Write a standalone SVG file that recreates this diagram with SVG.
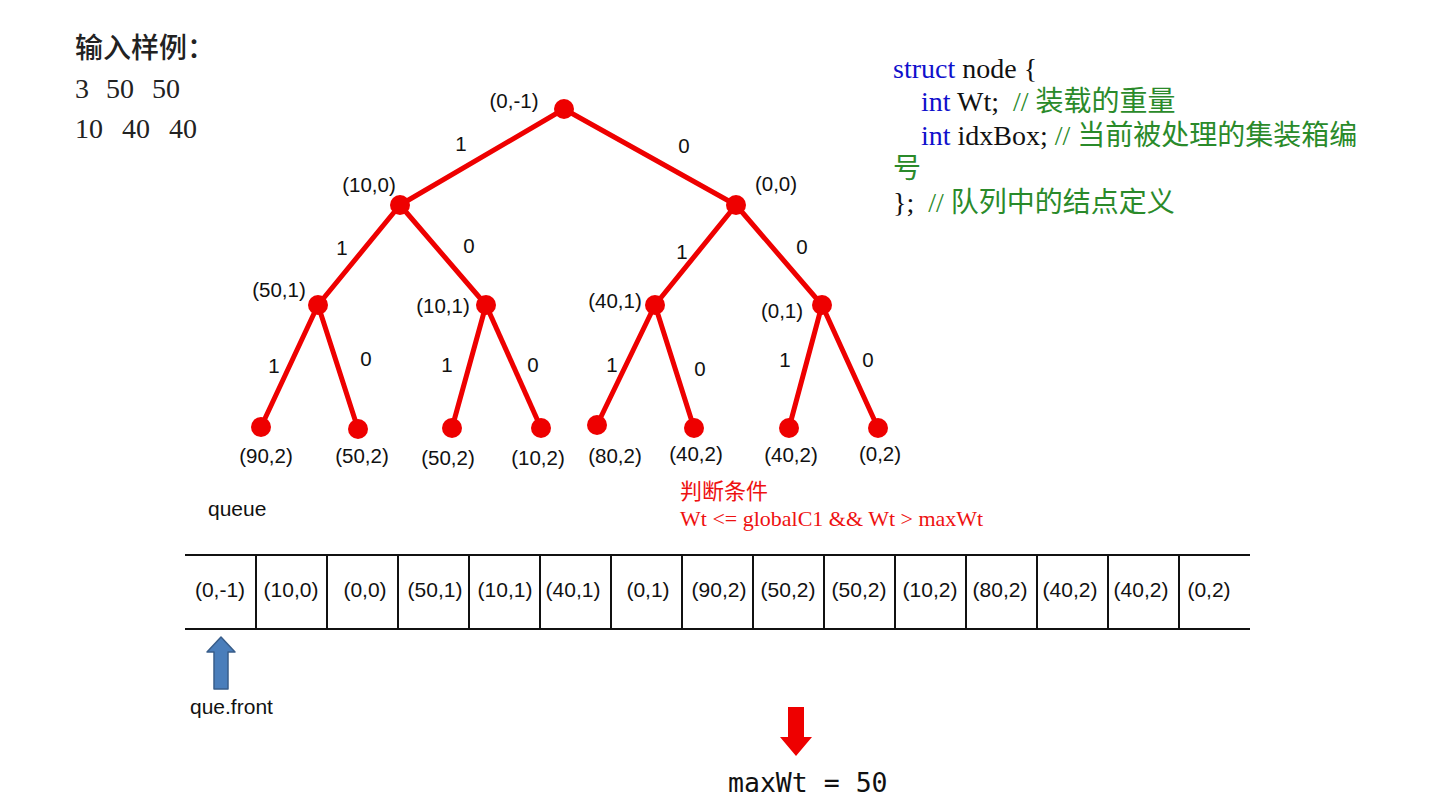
<svg xmlns="http://www.w3.org/2000/svg" width="1440" height="810" viewBox="0 0 1440 810">
<style>
.lbl{font-family:"Liberation Sans",Arial,sans-serif;font-size:20.5px;fill:#111;text-anchor:middle;dominant-baseline:central}
.edge{stroke:#ee0000;stroke-width:5;fill:none;stroke-linecap:round}
.dot{fill:#ee0000}
.cell{font-family:"Liberation Sans",Arial,sans-serif;font-size:21px;fill:#111;text-anchor:middle;dominant-baseline:central}
.code{font-family:"Liberation Serif","Times New Roman","Noto Sans CJK SC",serif;font-size:28px;fill:#111;white-space:pre}
.kw{fill:#1010cc}
.cm{fill:#2a8a2a}
.inp{font-family:"Liberation Serif","Times New Roman","Noto Sans CJK SC",serif;font-size:28px;fill:#222}
</style>
<rect width="1440" height="810" fill="#fff"/>
<g id="input">
<text class="inp" x="75" y="58" font-size="29" font-weight="500">输入样例：</text>
<text class="inp" x="75" y="98">3</text>
<text class="inp" x="106" y="98">50</text>
<text class="inp" x="152" y="98">50</text>
<text class="inp" x="75" y="138">10</text>
<text class="inp" x="122" y="138">40</text>
<text class="inp" x="169" y="138">40</text>
</g>
<g id="code">
<text class="code" x="893" y="78"><tspan class="kw">struct</tspan> node {</text>
<text class="code" x="921" y="111" xml:space="preserve"><tspan class="kw">int</tspan> Wt;  <tspan class="cm">// 装载的重量</tspan></text>
<text class="code" x="921" y="145" xml:space="preserve"><tspan class="kw">int</tspan> idxBox; <tspan class="cm">// 当前被处理的集装箱编</tspan></text>
<text class="code cm" x="893" y="178">号</text>
<text class="code" x="893" y="212" xml:space="preserve">};  <tspan class="cm">// 队列中的结点定义</tspan></text>
</g>
<g id="connectors">
<line class="edge" x1="564" y1="109" x2="400" y2="205"/>
<line class="edge" x1="564" y1="109" x2="736" y2="205"/>
<line class="edge" x1="400" y1="205" x2="318" y2="305"/>
<line class="edge" x1="400" y1="205" x2="486" y2="305"/>
<line class="edge" x1="736" y1="205" x2="655" y2="305"/>
<line class="edge" x1="736" y1="205" x2="822" y2="305"/>
<line class="edge" x1="318" y1="305" x2="261" y2="427"/>
<line class="edge" x1="318" y1="305" x2="358" y2="429"/>
<line class="edge" x1="486" y1="305" x2="452" y2="428"/>
<line class="edge" x1="486" y1="305" x2="541" y2="428"/>
<line class="edge" x1="655" y1="305" x2="597" y2="425"/>
<line class="edge" x1="655" y1="305" x2="694" y2="428"/>
<line class="edge" x1="822" y1="305" x2="789" y2="428"/>
<line class="edge" x1="822" y1="305" x2="878" y2="428"/>
<text class="lbl" x="461" y="143">1</text>
<text class="lbl" x="684" y="145">0</text>
<text class="lbl" x="342" y="247">1</text>
<text class="lbl" x="469" y="245">0</text>
<text class="lbl" x="682" y="251">1</text>
<text class="lbl" x="802" y="246">0</text>
<text class="lbl" x="274" y="365">1</text>
<text class="lbl" x="366" y="358">0</text>
<text class="lbl" x="447" y="364">1</text>
<text class="lbl" x="533" y="364">0</text>
<text class="lbl" x="612" y="364">1</text>
<text class="lbl" x="700" y="368">0</text>
<text class="lbl" x="785" y="359">1</text>
<text class="lbl" x="868" y="359">0</text>
</g>
<g id="n-root"><circle class="dot" cx="564" cy="109" r="10"/><text class="lbl" x="514" y="100">(0,-1)</text></g>
<g id="n-10-0"><circle class="dot" cx="400" cy="205" r="10"/><text class="lbl" x="369" y="184">(10,0)</text></g>
<g id="n-0-0"><circle class="dot" cx="736" cy="205" r="10"/><text class="lbl" x="776" y="183">(0,0)</text></g>
<g id="n-50-1"><circle class="dot" cx="318" cy="305" r="10"/><text class="lbl" x="279" y="289">(50,1)</text></g>
<g id="n-10-1"><circle class="dot" cx="486" cy="305" r="10"/><text class="lbl" x="443" y="305">(10,1)</text></g>
<g id="n-40-1"><circle class="dot" cx="655" cy="305" r="10"/><text class="lbl" x="615" y="300">(40,1)</text></g>
<g id="n-0-1"><circle class="dot" cx="822" cy="305" r="10"/><text class="lbl" x="782" y="310">(0,1)</text></g>
<g id="n-90-2"><circle class="dot" cx="261" cy="427" r="10"/><text class="lbl" x="266" y="455">(90,2)</text></g>
<g id="n-50-2a"><circle class="dot" cx="358" cy="429" r="10"/><text class="lbl" x="362" y="455">(50,2)</text></g>
<g id="n-50-2b"><circle class="dot" cx="452" cy="428" r="10"/><text class="lbl" x="448" y="457">(50,2)</text></g>
<g id="n-10-2"><circle class="dot" cx="541" cy="428" r="10"/><text class="lbl" x="538" y="457">(10,2)</text></g>
<g id="n-80-2"><circle class="dot" cx="597" cy="425" r="10"/><text class="lbl" x="615" y="455">(80,2)</text></g>
<g id="n-40-2a"><circle class="dot" cx="694" cy="428" r="10"/><text class="lbl" x="696" y="453">(40,2)</text></g>
<g id="n-40-2b"><circle class="dot" cx="789" cy="428" r="10"/><text class="lbl" x="791" y="454">(40,2)</text></g>
<g id="n-0-2"><circle class="dot" cx="878" cy="428" r="10"/><text class="lbl" x="880" y="453">(0,2)</text></g>
<g id="condition" font-family="'Liberation Serif','Times New Roman','Noto Sans CJK SC',serif" font-size="22" fill="#ee1111">
<text x="680" y="499">判断条件</text>
<text x="680" y="526">Wt &lt;= globalC1 &amp;&amp; Wt &gt; maxWt</text>
</g>
<g id="queue-label"><text x="208" y="516" font-family="'Liberation Sans',Arial,sans-serif" font-size="21" fill="#111">queue</text></g>
<g id="queue" stroke="#111" stroke-width="2">
<line x1="185" y1="555" x2="1250" y2="555"/>
<line x1="185" y1="629" x2="1250" y2="629"/>
<line x1="256" y1="555" x2="256" y2="629"/>
<line x1="327" y1="555" x2="327" y2="629"/>
<line x1="398" y1="555" x2="398" y2="629"/>
<line x1="469" y1="555" x2="469" y2="629"/>
<line x1="540" y1="555" x2="540" y2="629"/>
<line x1="611" y1="555" x2="611" y2="629"/>
<line x1="682" y1="555" x2="682" y2="629"/>
<line x1="753" y1="555" x2="753" y2="629"/>
<line x1="824" y1="555" x2="824" y2="629"/>
<line x1="895" y1="555" x2="895" y2="629"/>
<line x1="966" y1="555" x2="966" y2="629"/>
<line x1="1037" y1="555" x2="1037" y2="629"/>
<line x1="1108" y1="555" x2="1108" y2="629"/>
<line x1="1179" y1="555" x2="1179" y2="629"/>
</g>
<g id="queue-cells">
<text class="cell" x="220" y="589">(0,-1)</text>
<text class="cell" x="291" y="589">(10,0)</text>
<text class="cell" x="365" y="589">(0,0)</text>
<text class="cell" x="435" y="589">(50,1)</text>
<text class="cell" x="505" y="589">(10,1)</text>
<text class="cell" x="573" y="589">(40,1)</text>
<text class="cell" x="648" y="589">(0,1)</text>
<text class="cell" x="719" y="589">(90,2)</text>
<text class="cell" x="788" y="589">(50,2)</text>
<text class="cell" x="859" y="589">(50,2)</text>
<text class="cell" x="930" y="589">(10,2)</text>
<text class="cell" x="1000" y="589">(80,2)</text>
<text class="cell" x="1070" y="589">(40,2)</text>
<text class="cell" x="1141" y="589">(40,2)</text>
<text class="cell" x="1209" y="589">(0,2)</text>
</g>
<g id="front-arrow">
<path d="M221,637 L235,652 L228,652 L228,689 L214,689 L214,652 L207,652 Z" fill="#4a7ebb" stroke="#385d8a" stroke-width="1.5" stroke-linejoin="round"/>
<text x="190" y="714" font-family="'Liberation Sans',Arial,sans-serif" font-size="21" fill="#111">que.front</text>
</g>
<g id="max-arrow">
<path d="M788,707 L804,707 L804,737 L812,737 L796,756 L780,737 L788,737 Z" fill="#ee0000" stroke-linejoin="round"/>
<text x="728" y="792" font-family="'DejaVu Sans Mono','Liberation Mono',monospace" font-size="26.5" fill="#111">maxWt = 50</text>
</g>
</svg>
